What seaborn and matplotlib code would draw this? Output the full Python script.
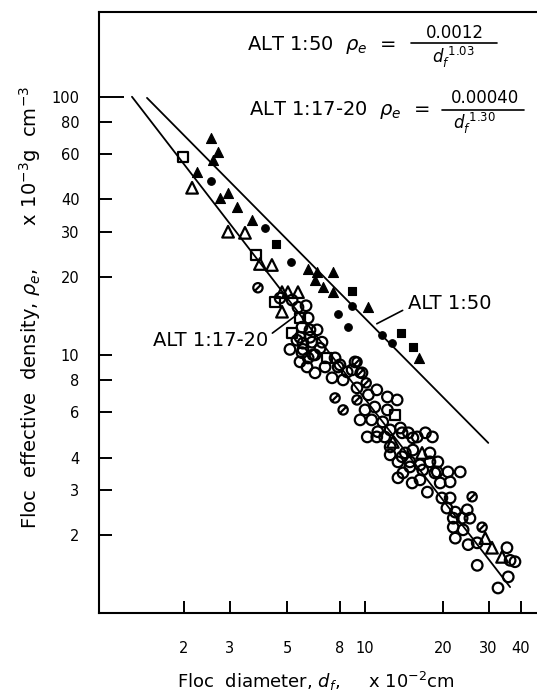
import matplotlib
matplotlib.use("Agg")
import matplotlib.pyplot as plt
from matplotlib.path import Path
from matplotlib.ticker import FixedLocator, FixedFormatter, NullLocator
import pandas as pd
import seaborn as sns

# fitted power-law lines, end points
alt50_line_d = [1.44, 29.9]
alt50_line_rho = [99.0, 4.56]
alt17_line_d = [1.26, 36.3]
alt17_line_rho = [100.0, 1.26]

# ALT 1:50 (filled symbols)
alt50_tri_d = [2.54, 2.71, 2.59, 2.25, 2.96, 2.75, 3.20, 3.66, 6.03, 6.53, 7.52, 6.41, 6.88, 7.52, 10.3, 16.2]
alt50_tri_rho = [69, 61, 57, 51, 42.5, 40.6, 37.5, 33.4, 21.5, 21.0, 21.0, 19.5, 18.4, 17.5, 15.3, 9.7]
alt50_circ_d = [2.54, 4.11, 5.18, 7.87, 8.60, 8.91, 11.6, 12.7]
alt50_circ_rho = [47, 31, 22.9, 14.4, 12.8, 15.5, 11.9, 11.1]
alt50_sq_d = [4.53, 8.91, 13.8, 15.3]
alt50_sq_rho = [26.9, 17.7, 12.2, 10.7]

# ALT 1:17-20 (open symbols)
alt17_tri_d = [2.15, 2.96, 3.44, 3.93, 4.37, 4.78, 5.04, 5.51, 4.78, 12.8, 16.6, 29.1, 30.9, 33.8]
alt17_tri_rho = [44.4, 30.0, 29.7, 22.5, 22.3, 17.5, 17.5, 17.5, 14.7, 4.60, 4.17, 1.95, 1.79, 1.65]
alt17_sq_d = [1.98, 3.80, 4.50, 5.61, 5.23, 7.13, 13.1]
alt17_sq_rho = [58.5, 24.4, 16.0, 13.9, 12.2, 9.73, 5.85]
alt17_hatch_d = [3.86, 9.31, 9.57, 10.1, 7.66, 8.23, 9.31, 25.9, 28.3]
alt17_hatch_rho = [18.2, 9.39, 8.52, 7.79, 6.81, 6.12, 6.69, 2.82, 2.15]
alt17_circ_d = [4.70, 5.23, 5.92, 5.51, 6.03, 5.71, 6.13, 6.53, 5.76, 6.24, 5.71, 6.03, 6.41, 6.70,
                7.66, 7.01, 7.87, 8.53, 9.15, 9.73, 5.97, 6.41, 5.61, 6.13, 6.82, 5.76, 6.30, 8.00,
                8.91, 7.46, 8.23, 9.31, 10.3, 11.1, 12.2, 13.3, 10.0, 10.9, 12.2, 9.57, 10.6, 11.7,
                10.2, 11.2, 12.5, 13.7, 14.7, 15.9, 17.1, 18.2, 12.5, 14.3, 15.3, 17.8, 13.4, 14.9,
                16.3, 17.8, 14.0, 16.7, 18.6, 11.1, 11.9, 13.9, 15.3, 12.5, 13.9, 19.1, 14.9, 19.0,
                20.9, 23.3, 13.4, 15.2, 16.3, 19.5, 21.3, 17.4, 19.8, 21.3, 20.7, 22.3, 24.8, 21.9,
                23.7, 25.4, 21.9, 22.3, 23.9, 25.0, 27.1, 35.3, 36.3, 37.9, 27.1, 35.7, 32.6,
                5.46, 5.13, 5.61]
alt17_circ_rho = [16.6, 16.3, 15.5, 15.3, 13.9, 12.8, 12.5, 12.5, 11.1, 11.2, 10.2, 9.73, 10.0, 10.6,
                  9.73, 8.98, 8.98, 8.59, 9.39, 8.52, 8.98, 8.52, 11.7, 11.7, 11.2, 10.5, 10.0, 9.15,
                  8.75, 8.15, 8.00, 7.45, 7.00, 7.32, 6.87, 6.69, 6.12, 6.28, 6.12, 5.60, 5.60, 5.50,
                  4.81, 5.04, 5.12, 5.21, 4.99, 4.81, 4.99, 4.81, 4.40, 4.17, 4.28, 4.17, 3.85, 3.85,
                  3.75, 3.85, 3.49, 3.58, 3.49, 4.81, 4.81, 4.99, 4.77, 4.10, 4.03, 3.85, 3.68, 3.52,
                  3.52, 3.52, 3.34, 3.19, 3.28, 3.19, 3.22, 2.94, 2.79, 2.79, 2.55, 2.46, 2.51, 2.33,
                  2.33, 2.33, 2.15, 1.95, 2.10, 1.84, 1.87, 1.79, 1.60, 1.58, 1.53, 1.38, 1.25,
                  11.4, 10.5, 9.4]

x_ticks = [2, 3, 5, 8, 10, 20, 30, 40]
y_ticks = [2, 3, 4, 6, 8, 10, 20, 30, 40, 60, 80, 100]

sns.set_theme(style="ticks")
plt.rcParams['font.family'] = ['DejaVu Sans']
plt.rcParams['mathtext.fontset'] = 'dejavusans'
plt.rcParams['text.color'] = 'black'
plt.rcParams['axes.labelcolor'] = 'black'

fig = plt.figure(figsize=(5.37, 6.92), dpi=100)
ax = fig.add_axes([99 / 537, 1 - 613 / 692, 438 / 537, 601 / 692])
ax.set_xscale('log')
ax.set_yscale('log')

# fit lines
sns.lineplot(x=alt50_line_d, y=alt50_line_rho, color='black', lw=1.3, ax=ax)
sns.lineplot(x=alt17_line_d, y=alt17_line_rho, color='black', lw=1.3, ax=ax)

# circle with a slash
hatched = Path.make_compound_path(
    Path.unit_circle(),
    Path([(-0.75, -0.75), (0.75, 0.75)], [Path.MOVETO, Path.LINETO]))

open_kw = dict(color='black', facecolor='none', edgecolor='black', linewidth=1.6, ax=ax)
sns.scatterplot(x=alt17_circ_d, y=alt17_circ_rho, marker='o', s=58, **open_kw)
sns.scatterplot(x=alt17_sq_d, y=alt17_sq_rho, marker='s', s=52, **open_kw)
sns.scatterplot(x=alt17_tri_d, y=alt17_tri_rho, marker='^', s=70, **open_kw)
sns.scatterplot(x=alt17_hatch_d, y=alt17_hatch_rho, marker=hatched, s=45, **open_kw)

filled_kw = dict(color='black', facecolor='black', edgecolor='black', linewidth=0.8, ax=ax)
sns.scatterplot(x=alt50_tri_d, y=alt50_tri_rho, marker='^', s=52, **filled_kw)
sns.scatterplot(x=alt50_circ_d, y=alt50_circ_rho, marker='o', s=30, **filled_kw)
sns.scatterplot(x=alt50_sq_d, y=alt50_sq_rho, marker='s', s=30, **filled_kw)

ax.set_xlim(0.94, 46.1)
ax.set_ylim(1.0, 213)

ax.xaxis.set_major_locator(FixedLocator(x_ticks))
ax.xaxis.set_major_formatter(FixedFormatter([str(v) for v in x_ticks]))
ax.xaxis.set_minor_locator(NullLocator())
ax.yaxis.set_major_locator(FixedLocator(y_ticks))
ax.yaxis.set_major_formatter(FixedFormatter([str(v) for v in y_ticks]))
ax.yaxis.set_minor_locator(NullLocator())

ax.tick_params(axis='both', direction='in', length=9, width=1.4, colors='black',
               labelcolor='black', labelsize=10.5)
ax.tick_params(axis='y', pad=14)
ax.tick_params(axis='x', pad=20)
ax.yaxis.get_major_ticks()[-1].tick1line.set_markersize(18)

for side in ['left', 'bottom', 'top']:
    ax.spines[side].set_linewidth(1.5)
    ax.spines[side].set_color('black')
ax.spines['right'].set_visible(False)

# equations
tr = ax.transAxes
ax.text(0.338, 0.945, r'ALT 1:50  $\rho_e$  =', transform=tr, fontsize=14, ha='left', va='center')
ax.text(0.813, 0.965, '0.0012', transform=tr, fontsize=12, ha='center', va='center')
ax.plot([0.712, 0.909], [0.948, 0.948], transform=tr, color='black', lw=1.2, clip_on=False)
ax.text(0.808, 0.925, r'$d_f^{\ 1.03}$', transform=tr, fontsize=12, ha='center', va='center')

ax.text(0.342, 0.837, r'ALT 1:17-20  $\rho_e$  =', transform=tr, fontsize=14, ha='left', va='center')
ax.text(0.881, 0.857, '0.00040', transform=tr, fontsize=12, ha='center', va='center')
ax.plot([0.783, 0.970], [0.837, 0.837], transform=tr, color='black', lw=1.2, clip_on=False)
ax.text(0.858, 0.815, r'$d_f^{\ 1.30}$', transform=tr, fontsize=12, ha='center', va='center')

# callouts
ax.annotate('ALT 1:50', xy=(11.1, 13.2), xytext=(14.7, 15.8), fontsize=14,
            ha='left', va='center',
            arrowprops=dict(arrowstyle='-', color='black', lw=1.2, relpos=(0, 0.3),
                            shrinkA=2, shrinkB=0))
ax.annotate('ALT 1:17-20', xy=(5.46, 14.3), xytext=(4.22, 11.4), fontsize=14,
            ha='right', va='center',
            arrowprops=dict(arrowstyle='-', color='black', lw=1.2, relpos=(1, 0.7),
                            shrinkA=1, shrinkB=0))

fig.text(30 / 537, 1 - 307 / 692,
         r'Floc  effective  density, $\rho_e$,       x 10$^{-3}$g  cm$^{-3}$',
         rotation=90, ha='center', va='center', fontsize=14)
fig.text(316 / 537, 1 - 681 / 692, r'Floc  diameter, $d_f$,     x 10$^{-2}$cm',
         ha='center', va='center', fontsize=13)

fig.savefig('out.png', dpi=100)
